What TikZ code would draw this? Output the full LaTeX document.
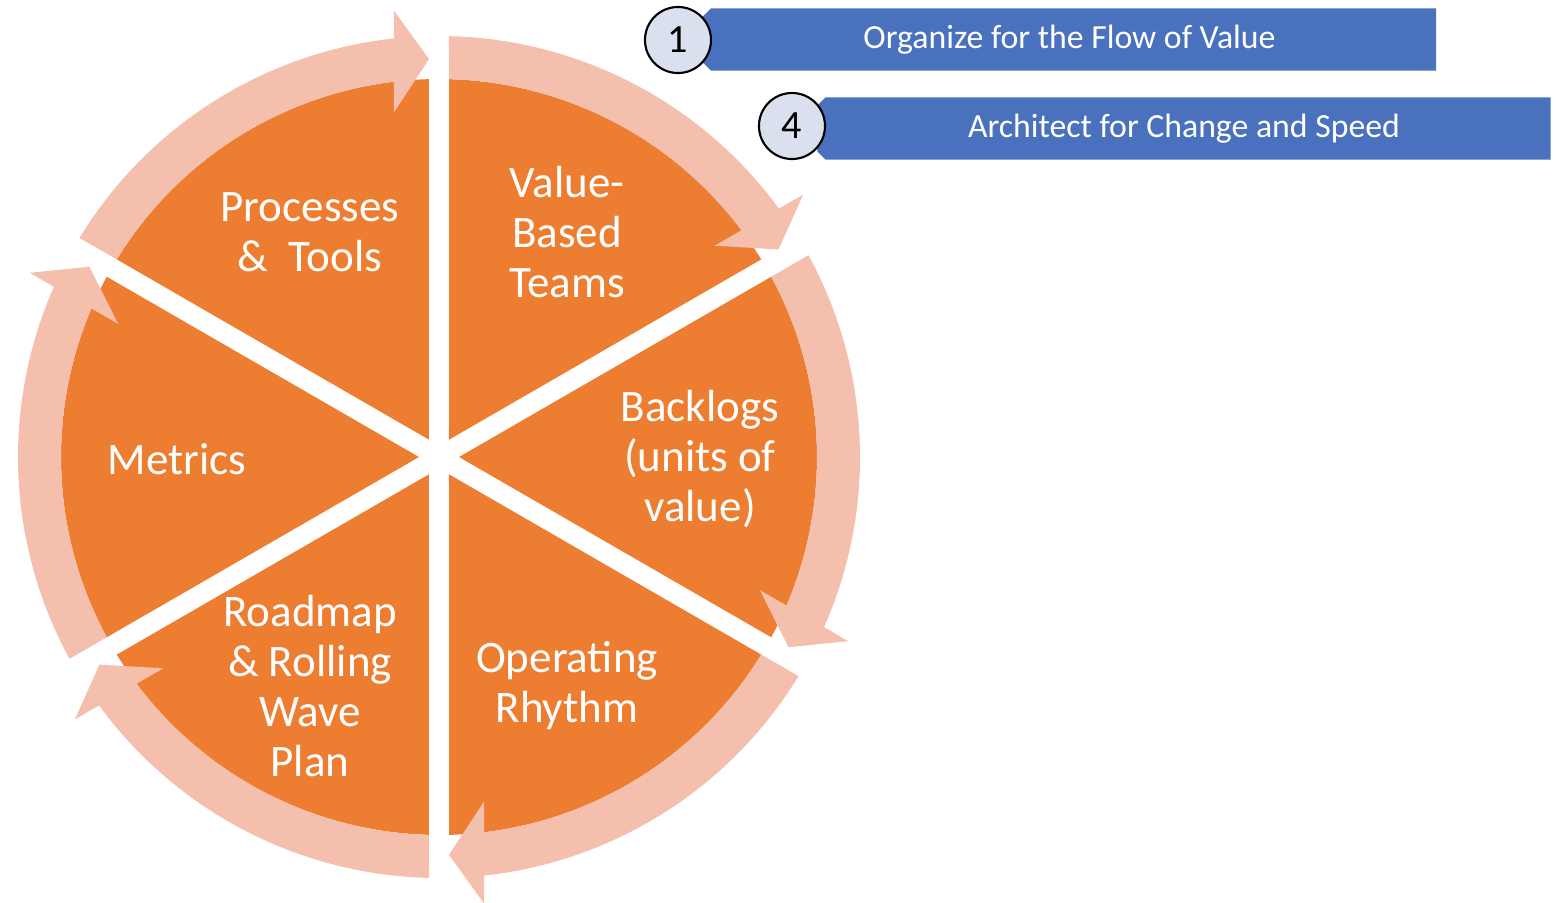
\documentclass[tikz,border=0pt]{standalone}
\usepackage{fontspec}
\setmainfont{Carlito}
\usetikzlibrary{shapes.misc}
\definecolor{wedgeorange}{HTML}{ED7D31}
\definecolor{ringpeach}{HTML}{F4BFAD}
\definecolor{bannerblue}{HTML}{4A71BE}
\definecolor{dotgrey}{HTML}{DAE0EE}

\begin{document}
\begin{tikzpicture}[x=0.01cm,y=0.01cm,
	sectortext/.style={text=white,align=center,font=\fontsize{12.8}{14.2}\selectfont},
	bannerbox/.style={fill=bannerblue,text=white,chamfered rectangle,chamfered rectangle corners={north west,south west},chamfered rectangle xsep=0.04cm,chamfered rectangle ysep=0.04cm,minimum width=7.33cm,minimum height=0.62cm,inner sep=0pt,font=\fontsize{9.6}{11}\selectfont},
	numdot/.style={circle,draw=black,line width=0.6pt,fill=dotgrey,minimum size=0.66cm,inner sep=0pt,font=\fontsize{11.4}{12}\selectfont}]
	\useasboundingbox (-439,-445) rectangle (1121,457);
	\foreach \r in {0,-60,...,-300}{
		\begin{scope}[rotate=\r]
		\fill[wedgeorange] (60:20) -- (88.48:378) arc (88.48:31.52:378) -- cycle;
		\end{scope}}
	\foreach \r in {0,-60,...,-300}{
		\begin{scope}[rotate=\r]
		\fill[ringpeach] (88.64:421) arc (88.64:36.16:421) -- (364.1,262.3) -- (31.44:398) -- (275.7,211.3) -- (36.86:378) arc (36.86:88.48:378) -- cycle;
		\end{scope}}
	\node[sectortext] (teams) at (128,225) {Value-\\Based\\Teams};
	\node[sectortext] (backlogs) at (261,-2) {Backlogs\\(units of\\value)};
	\node[sectortext] (rhythm) at (128,-229) {Operating\\Rhythm};
	\node[sectortext] (roadmap) at (-129,-229) {Roadmap\\\& Rolling\\Wave\\Plan};
	\node[sectortext] (metrics) at (-262,-2) {Metrics};
	\node[sectortext] (processes) at (-129,225) {Processes\\\&\ \ Tools};
	\node[bannerbox] (flow) at (630.5,417.5) {Organize for the Flow of Value};
	\node[bannerbox] (change) at (745,328.5) {Architect for Change and Speed};
	\node[numdot] (n1) at (239,417) {1};
	\node[numdot] (n4) at (353,331) {4};
\end{tikzpicture}
\end{document}
